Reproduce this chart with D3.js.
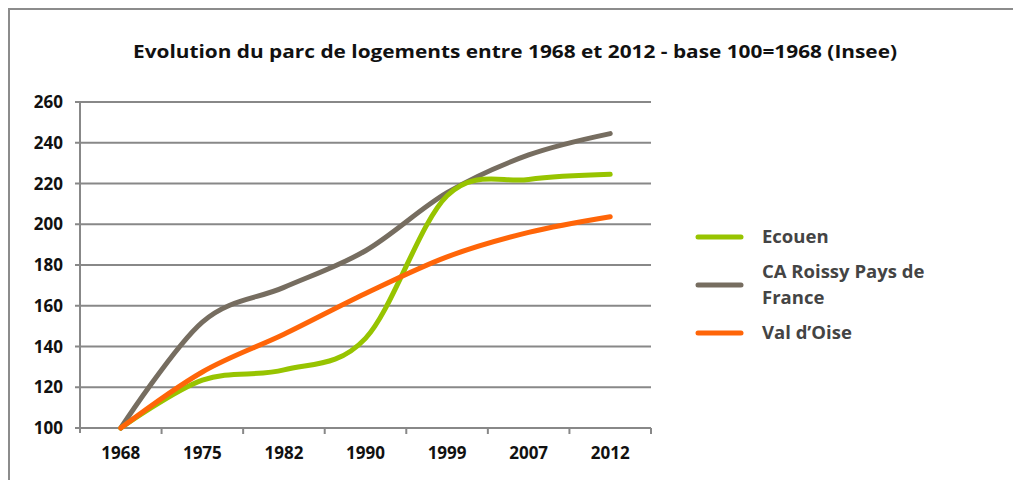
<!DOCTYPE html>
<html>
<head>
<meta charset="utf-8">
<script src="https://cdn.jsdelivr.net/npm/d3@7.9.0/dist/d3.min.js"></script>
<style>
  body { margin: 0; background: #fff; }
  svg { display: block; font-family: "Open Sans", Lato, sans-serif; }
</style>
</head>
<body>
<svg id="chart" width="1013" height="480"></svg>
<script>
const years = ['1968', '1975', '1982', '1990', '1999', '2007', '2012'];
const ecouen = [100, 123.5, 128.5, 144, 214, 222, 224.5];
const roissy = [100, 152, 169, 187, 215.5, 234, 244.5];
const valOise = [100, 127.5, 146, 166, 184, 196, 203.7];
const yTicks = [100, 120, 140, 160, 180, 200, 220, 240, 260];

const series = [
  { name: ['Ecouen'], values: ecouen, color: '#97c400' },
  { name: ['CA Roissy Pays de', 'France'], values: roissy, color: '#766d60' },
  { name: ['Val d\u2019Oise'], values: valOise, color: '#ff6508' }
];

const svg = d3.select('#chart');

// outer frame (top + left only visible)
svg.append('path')
  .attr('d', 'M9,480 V9 H1013')
  .attr('fill', 'none')
  .attr('stroke', '#8c8c8c')
  .attr('stroke-width', 2);

svg.append('text')
  .attr('x', 515)
  .attr('y', 58)
  .attr('text-anchor', 'middle')
  .attr('font-size', 18)
  .attr('font-weight', 'bold')
  .attr('fill', '#111')
  .attr('textLength', 764)
  .attr('lengthAdjust', 'spacingAndGlyphs')
  .text('Evolution du parc de logements entre 1968 et 2012 - base 100=1968 (Insee)');

const x = d3.scaleBand().domain(years).range([80, 651]);
const y = d3.scaleLinear().domain([100, 260]).range([428, 102]);

// gridlines
svg.append('g')
  .selectAll('line')
  .data(yTicks)
  .join('line')
  .attr('x1', 75)
  .attr('x2', 651)
  .attr('y1', d => y(d))
  .attr('y2', d => y(d))
  .attr('stroke', '#888')
  .attr('stroke-width', 2);

// y axis line
svg.append('line')
  .attr('x1', 80).attr('x2', 80)
  .attr('y1', y(260)).attr('y2', y(100) + 5)
  .attr('stroke', '#888')
  .attr('stroke-width', 2);

// x tick marks at band boundaries
const bounds = years.map(d => x(d) + x.bandwidth());
svg.append('g')
  .selectAll('line')
  .data(bounds)
  .join('line')
  .attr('x1', d => d).attr('x2', d => d)
  .attr('y1', y(100)).attr('y2', y(100) + 6)
  .attr('stroke', '#888')
  .attr('stroke-width', 2);

// y labels
svg.append('g')
  .selectAll('text')
  .data(yTicks)
  .join('text')
  .attr('x', 63)
  .attr('y', d => y(d) + 6)
  .attr('text-anchor', 'end')
  .attr('font-size', 17)
  .attr('font-weight', 'bold')
  .attr('fill', '#111')
  .text(d => d);

// x labels
svg.append('g')
  .selectAll('text')
  .data(years)
  .join('text')
  .attr('x', d => x(d) + x.bandwidth() / 2)
  .attr('y', 459)
  .attr('text-anchor', 'middle')
  .attr('font-size', 17)
  .attr('font-weight', 'bold')
  .attr('fill', '#111')
  .text(d => d);

// lines (Roissy drawn first, Ecouen then Val d'Oise on top)
const line = d3.line()
  .x((d, i) => x(years[i]) + x.bandwidth() / 2)
  .y(d => y(d))
  .curve(d3.curveCardinal.tension(0));

[series[1], series[0], series[2]].forEach(s => {
  svg.append('path')
    .attr('d', line(s.values))
    .attr('fill', 'none')
    .attr('stroke', s.color)
    .attr('stroke-width', 5)
    .attr('stroke-linecap', 'round')
    .attr('stroke-linejoin', 'round');
});

// legend
const legendY = [237, 285, 333];
series.forEach((s, i) => {
  const g = svg.append('g');
  g.append('line')
    .attr('x1', 698).attr('x2', 741)
    .attr('y1', legendY[i]).attr('y2', legendY[i])
    .attr('stroke', s.color)
    .attr('stroke-width', 5)
    .attr('stroke-linecap', 'round');
  const t = g.append('text')
    .attr('x', 762)
    .attr('font-size', 18.5)
    .attr('font-weight', 'bold')
    .attr('fill', '#444');
  const n = s.name.length;
  s.name.forEach((ln, j) => {
    t.append('tspan')
      .attr('x', 762)
      .attr('y', legendY[i] + 6 + (j - (n - 1) / 2) * 26)
      .text(ln);
  });
});
</script>
</body>
</html>
